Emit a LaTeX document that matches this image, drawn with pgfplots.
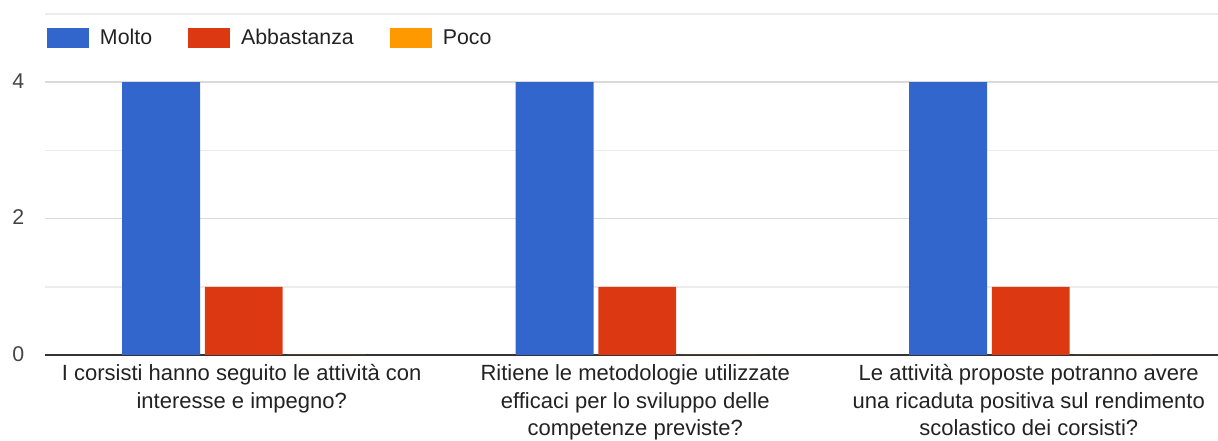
\documentclass[border=0pt]{standalone}
\usepackage{pgfplots}
\pgfplotsset{compat=1.18}
\usepackage{fontspec}
\setmainfont{Liberation Sans}
\definecolor{cBlue}{HTML}{3366CC}
\definecolor{cRed}{HTML}{DC3912}
\definecolor{cOrange}{HTML}{FF9900}
\definecolor{cGridMaj}{HTML}{DADADA}
\definecolor{cGridMin}{HTML}{ECECEC}
\definecolor{cBase}{HTML}{333333}
\definecolor{cText}{HTML}{222222}
\definecolor{cTick}{HTML}{444444}
\begin{document}
\begin{tikzpicture}
\begin{axis}[
  name=ax,
  scale only axis,
  width=879.75pt, height=255.75pt,
  xmin=-0.5, xmax=2.481,
  ymin=0, ymax=5,
  ybar,
  bar width=0.198,
  xtick={0,1,2},
  xticklabels={{I corsisti hanno seguito le attività con\\interesse e impegno?},
               {Ritiene le metodologie utilizzate\\efficaci per lo sviluppo delle\\competenze previste?},
               {Le attività proposte potranno avere\\una ricaduta positiva sul rendimento\\scolastico dei corsisti?}},
  xticklabel style={align=center, font=\fontsize{16.5pt}{20.5pt}\selectfont, text=cText, anchor=north, yshift=0.5pt},
  major x tick style={draw=none},
  ytick={0,2,4},
  minor ytick={1,3,5},
  yticklabel style={font=\fontsize{16pt}{18pt}\selectfont, text=cTick, xshift=-12pt, yshift=1pt},
  /pgf/number format/assume math mode=true,
  ymajorgrids, yminorgrids,
  major grid style={draw=cGridMaj, line width=1.1pt},
  minor grid style={draw=cGridMin, line width=1.1pt},
  tick style={draw=none},
  axis x line*=bottom,
  axis y line*=left,
  x axis line style={draw=cBase, line width=1.3pt, -},
  y axis line style={draw=none},
  legend style={
    at={(rel axis cs:0.0017,0.9296)}, anchor=west,
    draw=none, fill=none, inner sep=0pt, outer sep=0pt,
    font=\fontsize{16pt}{19pt}\selectfont, text=cText,
    legend columns=-1,
    nodes={inner sep=0pt},
    /tikz/every odd column/.append style={column sep=8.25pt},
    /tikz/every even column/.append style={column sep=27pt},
  },
  legend image code/.code={\fill[#1] (0pt,-7.5pt) rectangle (31.5pt,7.5pt);},
]
\addplot[fill=cBlue, draw=none, bar shift=-0.205] coordinates {(0,4) (1,4) (2,4)};
\addplot[fill=cRed, draw=none, bar shift=0.005] coordinates {(0,1) (1,1) (2,1)};
\addplot[fill=cOrange, draw=none, bar shift=0.215] coordinates {(0,0) (1,0) (2,0)};
\legend{Molto, Abbastanza, Poco}
\end{axis}
\pgfresetboundingbox
\path[use as bounding box] ([xshift=-33.75pt,yshift=-64.5pt]ax.south west) rectangle ([yshift=10.5pt]ax.north east);
\end{tikzpicture}
\end{document}
